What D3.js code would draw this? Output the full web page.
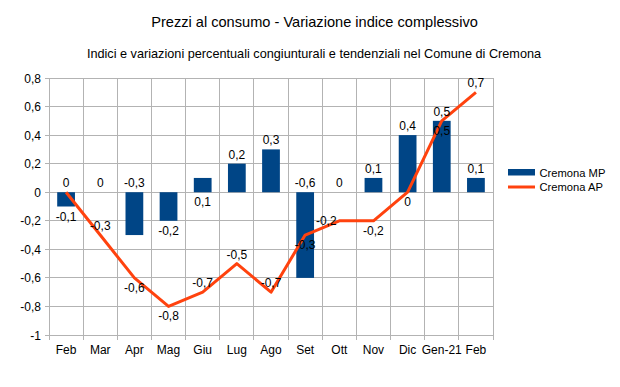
<!DOCTYPE html>
<html><head><meta charset="utf-8">
<script src="https://cdn.jsdelivr.net/npm/d3@7"></script>
<style>body{margin:0;background:#fff}svg{display:block}text{font-family:"Liberation Sans",Arial,sans-serif}</style>
</head><body><svg id="c" width="620" height="387"></svg>
<script>
const categories = ["Feb","Mar","Apr","Mag","Giu","Lug","Ago","Set","Ott","Nov","Dic","Gen-21","Feb"];
const cremonaMP = [-0.1, 0, -0.3, -0.2, 0.1, 0.2, 0.3, -0.6, 0, 0.1, 0.4, 0.5, 0.1];
const cremonaAP = [0, -0.3, -0.6, -0.8, -0.7, -0.5, -0.7, -0.3, -0.2, -0.2, 0, 0.5, 0.7];
const yTicks = [-1, -0.8, -0.6, -0.4, -0.2, 0, 0.2, 0.4, 0.6, 0.8];
const seriesNames = ["Cremona MP", "Cremona AP"];
// label placement (style)
const mpLabelSide = ["below","above","above","below","below","above","above","above","above","above","above","above","above"];
const apLabelSide = ["above","above","below","below","above","above","above","below","left","below","below","below","above"];

const svg = d3.select("#c");
const m = {l:49, r:127, t:78, b:52};
const W = 620, H = 387;
const x = d3.scaleBand().domain(d3.range(categories.length)).range([m.l, W - m.r]).paddingInner(0).paddingOuter(0);
const y = d3.scaleLinear().domain([-1, 0.8]).range([H - m.b, m.t]);
const fmt = v => String(v).replace(".", ",");
const grid = "#b3b3b3";

// title
svg.append("text").attr("x", 314.5).attr("y", 26.5).attr("text-anchor","middle").attr("font-size", 14.6).attr("fill","#000").text("Prezzi al consumo - Variazione indice complessivo");
svg.append("text").attr("x", 314).attr("y", 57.5).attr("text-anchor","middle").attr("font-size", 12.7).attr("fill","#000").text("Indici e variazioni percentuali congiunturali e tendenziali nel Comune di Cremona");

// horizontal grid
svg.append("g").selectAll("line").data(yTicks).join("line")
  .attr("x1", m.l - 4).attr("x2", W - m.r).attr("y1", d => y(d)).attr("y2", d => y(d))
  .attr("stroke", grid).attr("stroke-width", 1).attr("shape-rendering","crispEdges");
// vertical grid
const bounds = d3.range(categories.length + 1).map(i => m.l + i * x.bandwidth());
svg.append("g").selectAll("line").data(bounds).join("line")
  .attr("x1", d => d).attr("x2", d => d).attr("y1", m.t).attr("y2", H - m.b + 5)
  .attr("stroke", grid).attr("stroke-width", 1).attr("shape-rendering","crispEdges");

// y labels
svg.append("g").selectAll("text").data(yTicks).join("text")
  .attr("x", 41).attr("y", d => y(d) + 4.5).attr("text-anchor","end").attr("font-size", 12).attr("fill","#000")
  .text(d => fmt(+d.toFixed(1)));
// x labels
svg.append("g").selectAll("text").data(categories).join("text")
  .attr("x", (d,i) => x(i) + x.bandwidth()/2).attr("y", H - m.b + 18.5).attr("text-anchor","middle").attr("font-size", 12).attr("fill","#000")
  .text(d => d);

// bars
const bw = x.bandwidth() * 0.52;
svg.append("g").selectAll("rect").data(cremonaMP).join("rect")
  .attr("x", (d,i) => x(i) + (x.bandwidth() - bw)/2).attr("width", bw)
  .attr("y", d => y(Math.max(0,d))).attr("height", d => Math.abs(y(d) - y(0)))
  .attr("fill", "#004586");

// line
const line = d3.line().x((d,i) => x(i) + x.bandwidth()/2).y(d => y(d));
svg.append("path").datum(cremonaAP).attr("d", line).attr("fill","none")
  .attr("stroke","#ff420e").attr("stroke-width", 3).attr("stroke-linejoin","round");

// MP labels
svg.append("g").selectAll("text").data(cremonaMP).join("text")
  .attr("x", (d,i) => x(i) + x.bandwidth()/2)
  .attr("y", (d,i) => {
    const top = y(Math.max(0,d)), bot = y(Math.min(0,d));
    return mpLabelSide[i] === "above" ? top - 5 : bot + 14;
  })
  .attr("text-anchor","middle").attr("font-size", 12).attr("fill","#000").text(d => fmt(d));

// AP labels
svg.append("g").selectAll("text").data(cremonaAP).join("text")
  .attr("x", (d,i) => x(i) + x.bandwidth()/2 + (apLabelSide[i] === "left" ? -13 : 0))
  .attr("y", (d,i) => {
    const p = y(d);
    if (apLabelSide[i] === "above") return p - 5;
    if (apLabelSide[i] === "below") return p + 14;
    return p + 4.5;
  })
  .attr("text-anchor","middle").attr("font-size", 12).attr("fill","#000").text(d => fmt(d));

// legend
const lg = svg.append("g");
lg.append("rect").attr("x", 508).attr("y", 169).attr("width", 27).attr("height", 6.5).attr("fill","#004586");
lg.append("text").attr("x", 539.5).attr("y", 176.5).attr("font-size", 11.2).attr("fill","#000").text(seriesNames[0]);
lg.append("line").attr("x1", 508).attr("x2", 535).attr("y1", 187).attr("y2", 187).attr("stroke","#ff420e").attr("stroke-width", 3);
lg.append("text").attr("x", 539.5).attr("y", 191).attr("font-size", 11.2).attr("fill","#000").text(seriesNames[1]);
</script></body></html>
